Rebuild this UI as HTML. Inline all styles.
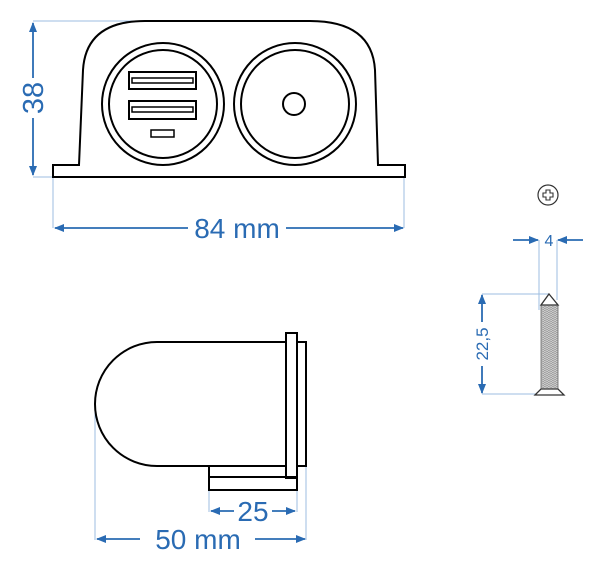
<!DOCTYPE html>
<html><head><style>html,body{margin:0;padding:0;background:#fff;}svg{display:block}</style></head><body>
<svg width="600" height="567" viewBox="0 0 600 567" xmlns="http://www.w3.org/2000/svg">
<defs>
<marker id="a" markerWidth="10" markerHeight="8" refX="9" refY="4" orient="auto" markerUnits="userSpaceOnUse"><path d="M0,0 L10,4 L0,8 Z" fill="#2a6bb3"/></marker>
<pattern id="th" width="4" height="2" patternUnits="userSpaceOnUse"><rect width="4" height="2" fill="#ccc"/><line x1="0" y1="0.5" x2="4" y2="1.5" stroke="#777" stroke-width="0.6"/></pattern>
</defs>
<g stroke="#9dbde0" stroke-width="1" fill="none">
<line x1="33" y1="21" x2="140" y2="21"/><line x1="33" y1="177" x2="53" y2="177"/>
<line x1="53" y1="177" x2="53" y2="228"/><line x1="404" y1="177" x2="404" y2="228"/>
<line x1="539" y1="240" x2="539" y2="310"/><line x1="557" y1="240" x2="557" y2="300"/>
<line x1="482" y1="294" x2="549" y2="294"/><line x1="482" y1="394" x2="540" y2="394"/>
<line x1="95" y1="410" x2="95" y2="540"/><line x1="306" y1="466" x2="306" y2="540"/>
<line x1="209" y1="490" x2="209" y2="512"/><line x1="297" y1="490" x2="297" y2="512"/>
</g>
<g stroke="#000" stroke-width="2" fill="none">
<path d="M53,165 L79,165 L83,70 Q86,21 145,21 L310,21 Q372,21 375,70 L378,165 L405,165 L405,177 L53,177 Z"/>
<circle cx="163" cy="104" r="61"/><circle cx="163" cy="104" r="54"/>
<circle cx="295" cy="104" r="61"/><circle cx="295" cy="104" r="54"/>
<circle cx="294" cy="104" r="11"/>
<rect x="129" y="72" width="67" height="17"/><rect x="132" y="78" width="61" height="5" stroke-width="1.5"/>
<rect x="129" y="101" width="67" height="18"/><rect x="132" y="107" width="61" height="5" stroke-width="1.5"/>
<rect x="151" y="130" width="23" height="7" stroke-width="1.5"/>
<path d="M286,342 L157,342 A62,62 0 0 0 157,466 L286,466"/>
<rect x="286" y="333" width="11" height="145"/>
<rect x="297" y="342" width="9" height="124"/>
<rect x="209" y="466" width="77" height="11"/>
<rect x="209" y="477" width="88" height="13"/>
</g>
<circle cx="548" cy="195" r="10" fill="none" stroke="#333" stroke-width="1.2"/>
<path d="M546,190 h4 v3 h3 v4 h-3 v3 h-4 v-3 h-3 v-4 h3 Z" fill="none" stroke="#333" stroke-width="1.1"/>
<rect x="541" y="305" width="17" height="85" fill="url(#th)" stroke="#666" stroke-width="0.8"/>
<path d="M549,294 L558,305 L541,305 Z" fill="#fff" stroke="#333" stroke-width="1.3"/>
<path d="M541,389 L558,389 L564,395 L535,395 Z" fill="#fff" stroke="#333" stroke-width="1.3"/>
<g stroke="#2a6bb3" stroke-width="1.8" fill="none">
<line x1="33" y1="78" x2="33" y2="23" marker-end="url(#a)"/><line x1="33" y1="118" x2="33" y2="175" marker-end="url(#a)"/>
<line x1="188" y1="228" x2="55" y2="228" marker-end="url(#a)"/><line x1="286" y1="228" x2="403" y2="228" marker-end="url(#a)"/>
<line x1="513" y1="240" x2="538" y2="240" marker-end="url(#a)"/><line x1="583" y1="240" x2="558" y2="240" marker-end="url(#a)"/>
<line x1="482" y1="322" x2="482" y2="295" marker-end="url(#a)"/><line x1="482" y1="366" x2="482" y2="393" marker-end="url(#a)"/>
<line x1="234" y1="511" x2="211" y2="511" marker-end="url(#a)"/><line x1="272" y1="511" x2="295" y2="511" marker-end="url(#a)"/>
<line x1="140" y1="539" x2="97" y2="539" marker-end="url(#a)"/><line x1="255" y1="539" x2="305" y2="539" marker-end="url(#a)"/>
</g>
<g fill="#2a6bb3" font-family="Liberation Sans, sans-serif">
<text x="0" y="0" font-size="29" text-anchor="middle" transform="translate(43,98) rotate(-90)">38</text>
<text x="237" y="238" font-size="28" text-anchor="middle">84 mm</text>
<text x="549" y="246" font-size="16" text-anchor="middle">4</text>
<text x="0" y="0" font-size="17" text-anchor="middle" transform="translate(488,344) rotate(-90)">22,5</text>
<text x="253" y="521" font-size="28" text-anchor="middle">25</text>
<text x="198" y="549" font-size="28" text-anchor="middle">50 mm</text>
</g>
</svg>
</body></html>
